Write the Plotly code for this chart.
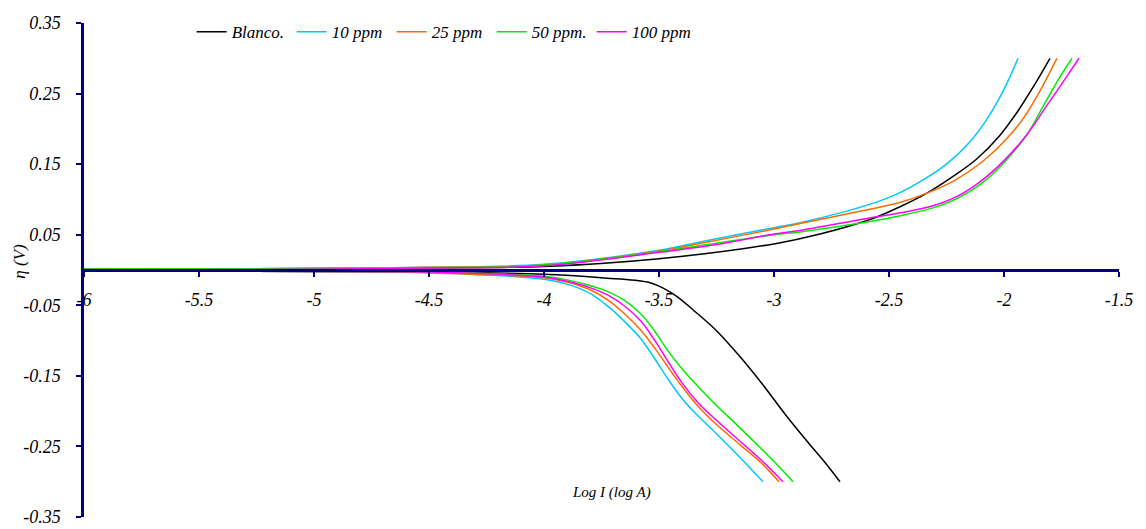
import plotly.graph_objects as go

# ---------------- data ----------------
series_names = ["Blanco.", "10 ppm", "25 ppm", "50 ppm.", "100 ppm"]
series_colors = ["#000000", "#00C8FF", "#FF6A00", "#00EE00", "#FF00FF"]

# anodic branches (eta > 0)
blanco_an_x = [-6.0, -5.0, -4.5, -4.0, -3.5, -3.0, -2.8, -2.57, -2.45, -2.335, -2.22, -2.12, -2.02, -1.94, -1.87, -1.80]
blanco_an_y = [0.001, 0.002, 0.003, 0.005, 0.016, 0.037, 0.051, 0.073, 0.090, 0.109, 0.133, 0.157, 0.190, 0.225, 0.261, 0.300]
ppm10_an_x = [-6.0, -5.0, -4.5, -4.0, -3.5, -3.3, -3.0, -2.887, -2.70, -2.539, -2.45, -2.35, -2.25, -2.15, -2.07, -2.00, -1.939]
ppm10_an_y = [0.001, 0.002, 0.004, 0.008, 0.028, 0.041, 0.060, 0.067, 0.082, 0.098, 0.110, 0.128, 0.150, 0.181, 0.216, 0.256, 0.300]
ppm25_an_x = [-6.0, -5.0, -4.5, -4.0, -3.5, -3.3, -3.0, -2.887, -2.60, -2.45, -2.335, -2.22, -2.10, -2.00, -1.92, -1.85, -1.77]
ppm25_an_y = [0.001, 0.002, 0.004, 0.007, 0.027, 0.039, 0.058, 0.066, 0.085, 0.096, 0.109, 0.126, 0.152, 0.182, 0.213, 0.250, 0.300]
ppm50_an_x = [-6.0, -5.0, -4.5, -4.0, -3.5, -3.0, -2.887, -2.596, -2.45, -2.309, -2.20, -2.10, -2.00, -1.90, -1.83, -1.76, -1.704]
ppm50_an_y = [0.001, 0.002, 0.003, 0.007, 0.026, 0.050, 0.054, 0.068, 0.077, 0.088, 0.102, 0.122, 0.152, 0.192, 0.232, 0.272, 0.300]
ppm100_an_x = [-6.0, -5.0, -4.5, -4.0, -3.5, -3.235, -3.0, -2.887, -2.596, -2.45, -2.309, -2.20, -2.10, -2.00, -1.90, -1.82, -1.74, -1.674]
ppm100_an_y = [0.0, 0.001, 0.003, 0.006, 0.025, 0.037, 0.051, 0.056, 0.073, 0.081, 0.091, 0.105, 0.126, 0.155, 0.192, 0.230, 0.268, 0.300]

# cathodic branches (eta < 0)
blanco_ca_x = [-6.0, -5.0, -4.5, -4.0, -3.75, -3.55, -3.48, -3.42, -3.35, -3.25, -3.15, -3.05, -2.95, -2.85, -2.78, -2.713]
blanco_ca_y = [-0.001, -0.002, -0.003, -0.006, -0.011, -0.017, -0.026, -0.038, -0.057, -0.086, -0.122, -0.162, -0.205, -0.245, -0.272, -0.300]
ppm10_ca_x = [-6.0, -5.0, -4.5, -4.0, -3.9, -3.8, -3.72, -3.65, -3.58, -3.52, -3.46, -3.40, -3.33, -3.25, -3.15, -3.048]
ppm10_ca_y = [-0.001, -0.002, -0.004, -0.013, -0.020, -0.033, -0.052, -0.073, -0.097, -0.125, -0.155, -0.182, -0.207, -0.232, -0.265, -0.300]
ppm25_ca_x = [-6.0, -5.0, -4.5, -4.0, -3.9, -3.8, -3.72, -3.65, -3.58, -3.52, -3.46, -3.40, -3.33, -3.25, -3.15, -3.05, -2.978]
ppm25_ca_y = [-0.001, -0.002, -0.004, -0.011, -0.017, -0.028, -0.043, -0.062, -0.085, -0.110, -0.138, -0.165, -0.193, -0.219, -0.247, -0.275, -0.300]
ppm50_ca_x = [-6.0, -5.0, -4.5, -4.0, -3.9, -3.8, -3.72, -3.65, -3.58, -3.52, -3.46, -3.40, -3.33, -3.25, -3.15, -3.05, -2.98, -2.917]
ppm50_ca_y = [-0.001, -0.002, -0.003, -0.009, -0.014, -0.022, -0.031, -0.043, -0.062, -0.086, -0.115, -0.140, -0.165, -0.192, -0.223, -0.255, -0.278, -0.300]
ppm100_ca_x = [-6.0, -5.0, -4.5, -4.0, -3.9, -3.8, -3.72, -3.65, -3.58, -3.52, -3.46, -3.40, -3.33, -3.25, -3.15, -3.05, -2.961]
ppm100_ca_y = [-0.001, -0.002, -0.003, -0.010, -0.016, -0.025, -0.036, -0.051, -0.072, -0.099, -0.130, -0.160, -0.188, -0.213, -0.242, -0.271, -0.300]

x_tick_vals = [-6, -5.5, -5, -4.5, -4, -3.5, -3, -2.5, -2, -1.5]
x_tick_text = ["-6", "-5.5", "-5", "-4.5", "-4", "-3.5", "-3", "-2.5", "-2", "-1.5"]
y_tick_vals = [0.35, 0.25, 0.15, 0.05, -0.05, -0.15, -0.25, -0.35]
y_tick_text = ["0.35", "0.25", "0.15", "0.05", "-0.05", "-0.15", "-0.25", "-0.35"]

x_title = "Log I (log A)"
y_title = "η (V)"

# ---------------- figure ----------------
anodic = [(blanco_an_x, blanco_an_y), (ppm10_an_x, ppm10_an_y), (ppm25_an_x, ppm25_an_y),
          (ppm50_an_x, ppm50_an_y), (ppm100_an_x, ppm100_an_y)]
cathodic = [(blanco_ca_x, blanco_ca_y), (ppm10_ca_x, ppm10_ca_y), (ppm25_ca_x, ppm25_ca_y),
            (ppm50_ca_x, ppm50_ca_y), (ppm100_ca_x, ppm100_ca_y)]

FONT = "Liberation Serif"
AXIS = "#000080"

fig = go.Figure()
for name, color, (ax, ay), (cx, cy) in zip(series_names, series_colors, anodic, cathodic):
    line = dict(color=color, width=1.5, shape="spline", smoothing=1.0)
    fig.add_trace(go.Scatter(x=ax, y=ay, mode="lines", name=name, legendgroup=name, line=line))
    fig.add_trace(go.Scatter(x=cx, y=cy, mode="lines", name=name, legendgroup=name,
                             showlegend=False, line=line))

# the page body has an 8px margin, so the figure is 8px smaller and margins shifted
fig.update_layout(
    width=1138, height=521,
    margin=dict(l=76, r=27, t=6, b=12),
    paper_bgcolor="white", plot_bgcolor="white",
    font=dict(family=FONT, size=16, color="black", style="italic"),
    showlegend=True,
    legend=dict(orientation="h", x=0.104, xanchor="left", y=1.018, yanchor="top",
                font=dict(family=FONT, size=17, style="italic"),
                itemwidth=30, entrywidth=55, entrywidthmode="pixels",
                bgcolor="rgba(0,0,0,0)", borderwidth=0, tracegroupgap=0),
    xaxis=dict(range=[-6, -1.5], anchor="free", position=0.5, automargin=False,
               showline=True, linecolor=AXIS, linewidth=2.5,
               ticks="outside", ticklen=5, tickwidth=2, tickcolor=AXIS,
               tickvals=x_tick_vals, ticktext=x_tick_text,
               tickfont=dict(family=FONT, size=18, style="italic"),
               ticklabelstandoff=8,
               showgrid=False, zeroline=False),
    yaxis=dict(range=[-0.35, 0.35], automargin=False,
               showline=True, linecolor=AXIS, linewidth=2.5,
               ticks="outside", ticklen=5, tickwidth=2, tickcolor=AXIS,
               tickvals=y_tick_vals, ticktext=y_tick_text,
               tickfont=dict(family=FONT, size=18, style="italic"),
               ticklabelstandoff=12,
               showgrid=False, zeroline=False),
    annotations=[
        dict(text=x_title, xref="paper", yref="paper", x=0.510, y=0.0497,
             xanchor="center", yanchor="middle",
             showarrow=False, font=dict(family=FONT, size=15, style="italic")),
        dict(text=y_title, xref="paper", yref="paper", x=-0.0618, y=0.517, textangle=-90,
             xanchor="center", yanchor="middle",
             showarrow=False, font=dict(family=FONT, size=17, style="italic")),
    ],
)

fig.write_html("out.html")
